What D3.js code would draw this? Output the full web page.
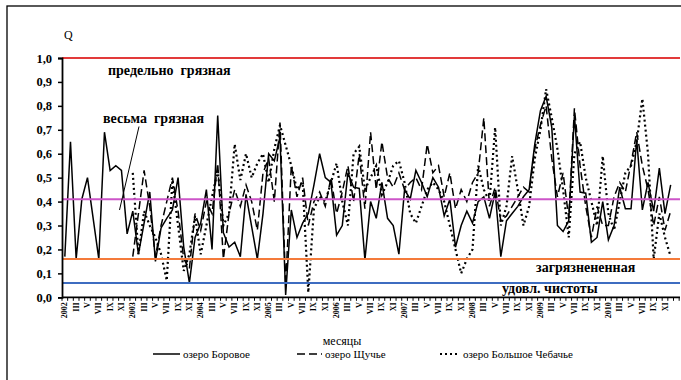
<!DOCTYPE html>
<html>
<head>
<meta charset="utf-8">
<script src="https://cdn.jsdelivr.net/npm/d3@7/dist/d3.min.js"></script>
<style>
  body { margin: 0; background: #fff; }
  svg { display: block; }
  text { font-family: "Liberation Serif", "Times New Roman", serif; fill: #000; }
</style>
</head>
<body>
<svg id="chart" width="681" height="380"></svg>
<script>
// Monthly categories 2002 – 2010; January is labelled with the year
const years = [2002, 2003, 2004, 2005, 2006, 2007, 2008, 2009, 2010];
const monthNames = ["I", "II", "III", "IV", "V", "VI", "VII", "VIII", "IX", "X", "XI", "XII"];
const months = [];
years.forEach(yr => monthNames.forEach((m, k) => months.push(k === 0 ? String(yr) : m)));

// Water quality index Q per month (null = no sample)
const borovoe = [
  0.17, 0.65, 0.16, 0.41, 0.50, null, 0.16, 0.69, 0.53, 0.55,
  0.53, 0.265, 0.36, 0.18, null, 0.44, 0.15, 0.29, 0.33, 0.365,
  0.50, 0.21, 0.06, 0.25, 0.31, 0.45, 0.20, 0.76, 0.27, 0.21,
  0.23, 0.17, 0.43, null, 0.16, 0.35, 0.60, 0.57, 0.67, 0.01,
  0.365, 0.25, 0.31, 0.35, 0.47, 0.60, 0.50, 0.48, 0.26, 0.30,
  0.52, 0.46, 0.455, 0.156, 0.40, 0.33, 0.48, 0.33, 0.30, 0.18,
  0.45, 0.41, 0.53, 0.48, 0.42, 0.50, 0.46, 0.34, 0.41, 0.21,
  0.30, 0.36, 0.31, 0.40, 0.42, 0.33, 0.44, 0.17, 0.32, 0.35,
  0.38, 0.42, 0.45, 0.64, 0.78, 0.84, 0.71, 0.30, 0.275, 0.32,
  0.76, 0.44, 0.435, 0.23, 0.25, 0.40, 0.24, 0.30, 0.46, 0.37,
  0.37, 0.66, 0.365, 0.48, 0.36, 0.54, 0.35, 0.47
];
const shchuchye = [
  null, null, null, null, null, null, null, null, null, null,
  null, null, 0.17, 0.35, 0.53, 0.38, 0.17, 0.30, 0.40, 0.50,
  0.36, 0.16, 0.12, 0.35, 0.28, 0.40, 0.35, 0.56, 0.16, 0.35,
  0.45, 0.38, 0.47, 0.40, 0.28, 0.52, 0.58, 0.40, 0.73, 0.05,
  0.55, 0.42, 0.50, 0.30, 0.40, 0.44, 0.38, 0.50, 0.35, 0.44,
  0.55, 0.40, 0.60, 0.37, 0.69, 0.45, 0.65, 0.50, 0.46, 0.52,
  0.45, 0.48, 0.50, 0.45, 0.64, 0.52, 0.55, 0.42, 0.52, 0.37,
  0.45, 0.40, 0.48, 0.52, 0.75, 0.38, 0.46, 0.32, 0.34, 0.38,
  0.42, 0.46, 0.44, 0.62, 0.72, 0.80, 0.58, 0.42, 0.52, 0.33,
  0.79, 0.55, 0.38, 0.25, 0.38, 0.30, 0.30, 0.42, 0.48, 0.44,
  0.56, 0.69, 0.55, 0.45, 0.30, 0.42, 0.28, 0.36
];
const chebachye = [
  null, null, null, null, null, null, null, null, null, null,
  null, null, 0.52, 0.18, 0.36, 0.30, 0.25, 0.18, 0.07, 0.49,
  0.30, 0.11, 0.18, 0.34, 0.18, 0.30, 0.42, 0.53, 0.30, 0.35,
  0.64, 0.49, 0.60, 0.50, 0.56, 0.60, 0.48, 0.62, 0.72, null,
  0.55, 0.45, 0.48, 0.02, 0.37, 0.42, 0.40, 0.48, 0.56, 0.40,
  0.30, 0.60, 0.63, 0.45, 0.50, 0.55, 0.43, 0.48, 0.55, 0.57,
  0.48, 0.35, 0.31, 0.38, 0.45, 0.48, 0.45, 0.40, 0.30, 0.20,
  0.10, 0.16, 0.20, 0.55, 0.45, 0.40, 0.71, 0.30, 0.38, 0.59,
  0.45, 0.30, 0.38, 0.58, 0.70, 0.87, 0.75, 0.62, 0.45, 0.25,
  0.60, 0.65, 0.50, 0.40, 0.30, 0.59, 0.35, 0.28, 0.40, 0.52,
  0.55, 0.65, 0.83, 0.60, 0.16, 0.35, 0.25, 0.17
];

const seriesNames = ["озеро Боровое", "озеро Щучье", "озеро Большое Чебачье"];
const seriesValues = [borovoe, shchuchye, chebachye];

// Class boundaries and their captions
const levels = [1.0, 0.41, 0.16, 0.06];
const levelColors = ["#e23a3a", "#cc55c8", "#f47a3a", "#3d6cc0"];
const yTicks = [0, 0.1, 0.2, 0.3, 0.4, 0.5, 0.6, 0.7, 0.8, 0.9, 1.0];

const svg = d3.select("#chart");
const plotLeft = 62, plotRight = 680;

const x = d3.scaleBand().domain(d3.range(months.length)).range([plotLeft, 673.5]);
const y = d3.scaleLinear().domain([0, 1]).range([297.3, 58]);
const cx = i => x(i) + x.bandwidth() / 2;

// Outer frame
svg.append("rect")
  .attr("x", 7).attr("y", 6).attr("width", 720).attr("height", 420)
  .attr("fill", "none").attr("stroke", "#000").attr("stroke-width", 1.3);

// Series lines
const styles = [
  { width: 1.5, dash: null },
  { width: 1.5, dash: "8,4" },
  { width: 2.2, dash: "2,3" }
];
const line = d3.line().x(d => cx(d[0])).y(d => y(d[1]));
seriesValues.forEach((vals, s) => {
  const pts = vals.map((v, i) => [i, v]).filter(d => d[1] != null);
  svg.append("path")
    .datum(pts)
    .attr("d", line)
    .attr("fill", "none")
    .attr("stroke", "#000")
    .attr("stroke-width", styles[s].width)
    .attr("stroke-dasharray", styles[s].dash)
    .attr("stroke-linejoin", "miter");
});

// Class boundary lines
levels.forEach((lv, k) => {
  svg.append("line")
    .attr("x1", plotLeft).attr("x2", plotRight)
    .attr("y1", y(lv)).attr("y2", y(lv))
    .attr("stroke", levelColors[k]).attr("stroke-width", 2);
});

// Y axis
const fmt = d3.format(".1f");
const yAxis = svg.append("g")
  .attr("transform", `translate(${plotLeft},0)`)
  .call(d3.axisLeft(y).tickValues(yTicks).tickSize(4).tickPadding(6)
        .tickFormat(d => fmt(d).replace(".", ",")));
yAxis.select(".domain").attr("stroke-width", 1.8);
yAxis.selectAll(".tick line").attr("stroke-width", 1.5);
yAxis.selectAll("text")
  .style("font-family", "'Liberation Serif', serif")
  .style("font-weight", "bold").style("font-size", "12.5px");

// X axis: month ticks on category boundaries, labels every second month
const xAxisG = svg.append("g").attr("transform", `translate(0,${y(0)})`);
xAxisG.append("line")
  .attr("x1", plotLeft).attr("x2", plotRight)
  .attr("stroke", "#000").attr("stroke-width", 1.8);
const step = x.step();
d3.range(0, Math.floor((plotRight - plotLeft) / step) + 1).forEach(k => {
  xAxisG.append("line")
    .attr("x1", plotLeft + k * step).attr("x2", plotLeft + k * step)
    .attr("y1", 0).attr("y2", 3.5)
    .attr("stroke", "#000").attr("stroke-width", 1);
});
xAxisG.selectAll("text.mlab")
  .data(d3.range(0, months.length, 2))
  .join("text")
  .attr("class", "mlab")
  .attr("transform", i => `translate(${cx(i) + 2.5},5) rotate(-90)`)
  .attr("text-anchor", "end")
  .style("font-weight", "bold").style("font-size", "8px")
  .text(i => months[i]);

// Axis titles
svg.append("text").attr("x", 64).attr("y", 38.5)
  .style("font-size", "12px").text("Q");
svg.append("text").attr("x", 342).attr("y", 345).attr("text-anchor", "middle")
  .style("font-size", "12px").text("месяцы");

// Class captions
const captions = [
  { text: "предельно  грязная", x: 108, y: 74.5 },
  { text: "весьма  грязная", x: 103, y: 122.5 },
  { text: "загрязнененная", x: 536, y: 272 },
  { text: "удовл. чистоты", x: 502, y: 292.5 }
];
svg.selectAll("text.cap").data(captions).join("text")
  .attr("class", "cap")
  .attr("x", d => d.x).attr("y", d => d.y)
  .style("white-space", "pre")
  .style("font-weight", "bold").style("font-size", "14px")
  .text(d => d.text);

// Leader from the "весьма грязная" caption
svg.append("line")
  .attr("x1", 139).attr("y1", 126.5).attr("x2", 119.5).attr("y2", 210)
  .attr("stroke", "#000").attr("stroke-width", 1);

// Legend
const legend = [
  { x1: 153, x2: 180 },
  { x1: 297, x2: 322 },
  { x1: 440, x2: 460 }
];
legend.forEach((p, s) => {
  svg.append("line")
    .attr("x1", p.x1).attr("x2", p.x2).attr("y1", 354).attr("y2", 354)
    .attr("stroke", "#000")
    .attr("stroke-width", styles[s].width)
    .attr("stroke-dasharray", styles[s].dash);
  svg.append("text")
    .attr("x", p.x2 + 3).attr("y", 357.5)
    .style("font-size", "11px")
    .text(seriesNames[s]);
});
</script>
</body>
</html>
